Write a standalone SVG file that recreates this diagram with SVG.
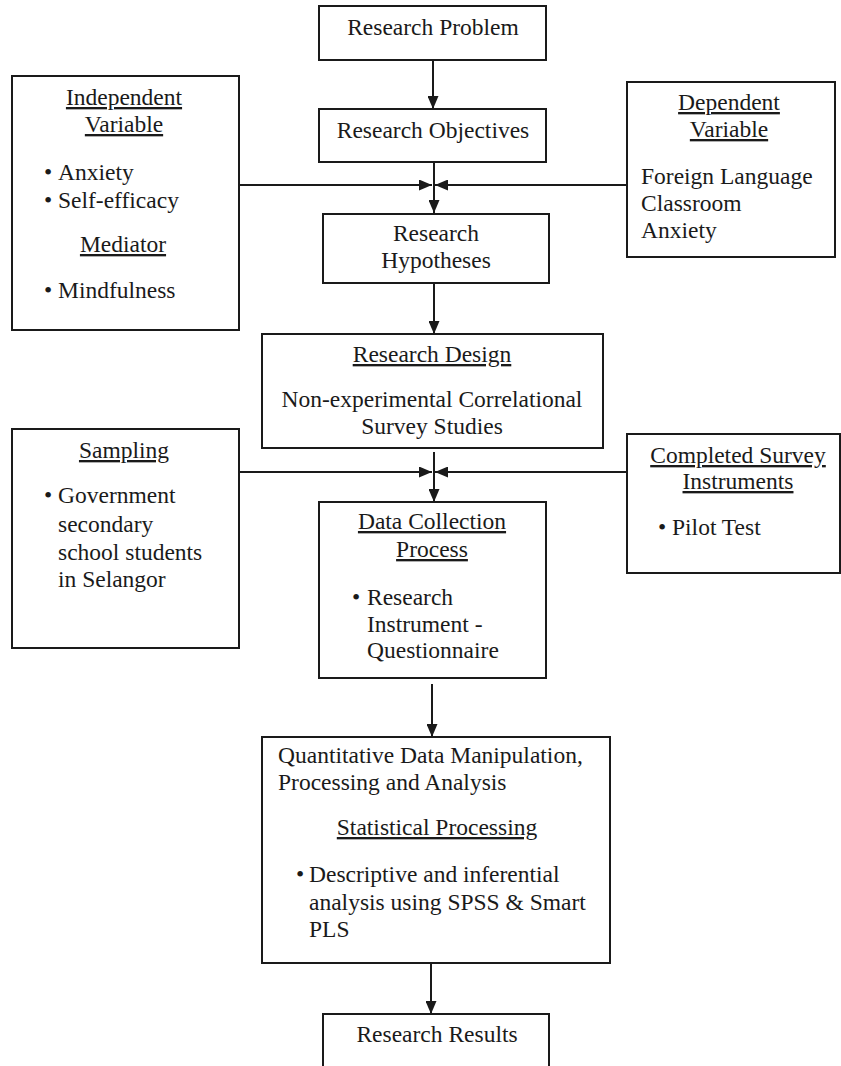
<svg xmlns="http://www.w3.org/2000/svg" width="841" height="1066" viewBox="0 0 841 1066">
<defs>
<style>
.box{fill:#fff;stroke:#1a1a1a;stroke-width:2}
text{font-family:"Liberation Serif","Times New Roman",serif;font-size:23.5px;fill:#1a1a1a}
.c{text-anchor:middle}
.u{text-decoration:underline}
.ln{stroke:#1a1a1a;stroke-width:2;fill:none}
</style>
<marker id="ah" markerUnits="userSpaceOnUse" markerWidth="13" markerHeight="11" refX="13" refY="5.5" orient="auto">
<path d="M0,0 L13,5.5 L0,11 z" fill="#1a1a1a"/>
</marker>
</defs>
<rect width="841" height="1066" fill="#fff"/>

<g id="connectors">
<line class="ln" x1="433" y1="60" x2="433" y2="109" marker-end="url(#ah)"/>
<line class="ln" x1="434" y1="163" x2="434" y2="213" marker-end="url(#ah)"/>
<line class="ln" x1="239" y1="185" x2="432" y2="185" marker-end="url(#ah)"/>
<line class="ln" x1="627" y1="185" x2="435" y2="185" marker-end="url(#ah)"/>
<line class="ln" x1="434" y1="283" x2="434" y2="334" marker-end="url(#ah)"/>
<line class="ln" x1="434" y1="452" x2="434" y2="502" marker-end="url(#ah)"/>
<line class="ln" x1="239" y1="472" x2="432" y2="472" marker-end="url(#ah)"/>
<line class="ln" x1="627" y1="472" x2="435" y2="472" marker-end="url(#ah)"/>
<line class="ln" x1="432" y1="684" x2="432" y2="737" marker-end="url(#ah)"/>
<line class="ln" x1="431" y1="963" x2="431" y2="1014" marker-end="url(#ah)"/>
</g>

<g id="research-problem">
<rect class="box" x="319" y="6" width="227" height="54"/>
<text class="c" x="433" y="35">Research Problem</text>
</g>

<g id="research-objectives">
<rect class="box" x="319" y="109" width="227" height="53"/>
<text class="c" x="433" y="138">Research Objectives</text>
</g>

<g id="independent-variable">
<rect class="box" x="12" y="76" width="227" height="254"/>
<text class="c u" x="124" y="105">Independent</text>
<text class="c u" x="124" y="132">Variable</text>
<text x="44" y="180">•</text><text x="58" y="180">Anxiety</text>
<text x="44" y="208">•</text><text x="58" y="208">Self-efficacy</text>
<text class="c u" x="123" y="252">Mediator</text>
<text x="44" y="298">•</text><text x="58" y="298">Mindfulness</text>
</g>

<g id="dependent-variable">
<rect class="box" x="627" y="82" width="208" height="175"/>
<text class="c u" x="729" y="110">Dependent</text>
<text class="c u" x="729" y="137">Variable</text>
<text x="641" y="184">Foreign Language</text>
<text x="641" y="211">Classroom</text>
<text x="641" y="238">Anxiety</text>
</g>

<g id="research-hypotheses">
<rect class="box" x="323" y="214" width="226" height="69"/>
<text class="c" x="436" y="241">Research</text>
<text class="c" x="436" y="268">Hypotheses</text>
</g>

<g id="research-design">
<rect class="box" x="262" y="334" width="341" height="114"/>
<text class="c u" x="432" y="362">Research Design</text>
<text class="c" x="432" y="407">Non-experimental Correlational</text>
<text class="c" x="432" y="434">Survey Studies</text>
</g>

<g id="sampling">
<rect class="box" x="12" y="429" width="227" height="219"/>
<text class="c u" x="124" y="458">Sampling</text>
<text x="44" y="503">•</text><text x="58" y="503">Government</text>
<text x="58" y="532">secondary</text>
<text x="58" y="560">school students</text>
<text x="58" y="587">in Selangor</text>
</g>

<g id="completed-survey-instruments">
<rect class="box" x="627" y="434" width="213" height="139"/>
<text class="c u" x="738" y="463">Completed Survey</text>
<text class="c u" x="738" y="489">Instruments</text>
<text x="658" y="535">•</text><text x="672" y="535">Pilot Test</text>
</g>

<g id="data-collection">
<rect class="box" x="319" y="502" width="227" height="176"/>
<text class="c u" x="432" y="529">Data Collection</text>
<text class="c u" x="432" y="557">Process</text>
<text x="352" y="605">•</text><text x="367" y="605">Research</text>
<text x="367" y="632">Instrument -</text>
<text x="367" y="658">Questionnaire</text>
</g>

<g id="quantitative-analysis">
<rect class="box" x="262" y="737" width="348" height="226"/>
<text x="278" y="763">Quantitative Data Manipulation,</text>
<text x="278" y="790">Processing and Analysis</text>
<text class="c u" x="437" y="835">Statistical Processing</text>
<text x="296" y="882">•</text><text x="309" y="882">Descriptive and inferential</text>
<text x="309" y="910">analysis using SPSS &amp; Smart</text>
<text x="309" y="937">PLS</text>
</g>

<g id="research-results">
<rect class="box" x="323" y="1014" width="226" height="70"/>
<text class="c" x="437" y="1042">Research Results</text>
</g>
</svg>
